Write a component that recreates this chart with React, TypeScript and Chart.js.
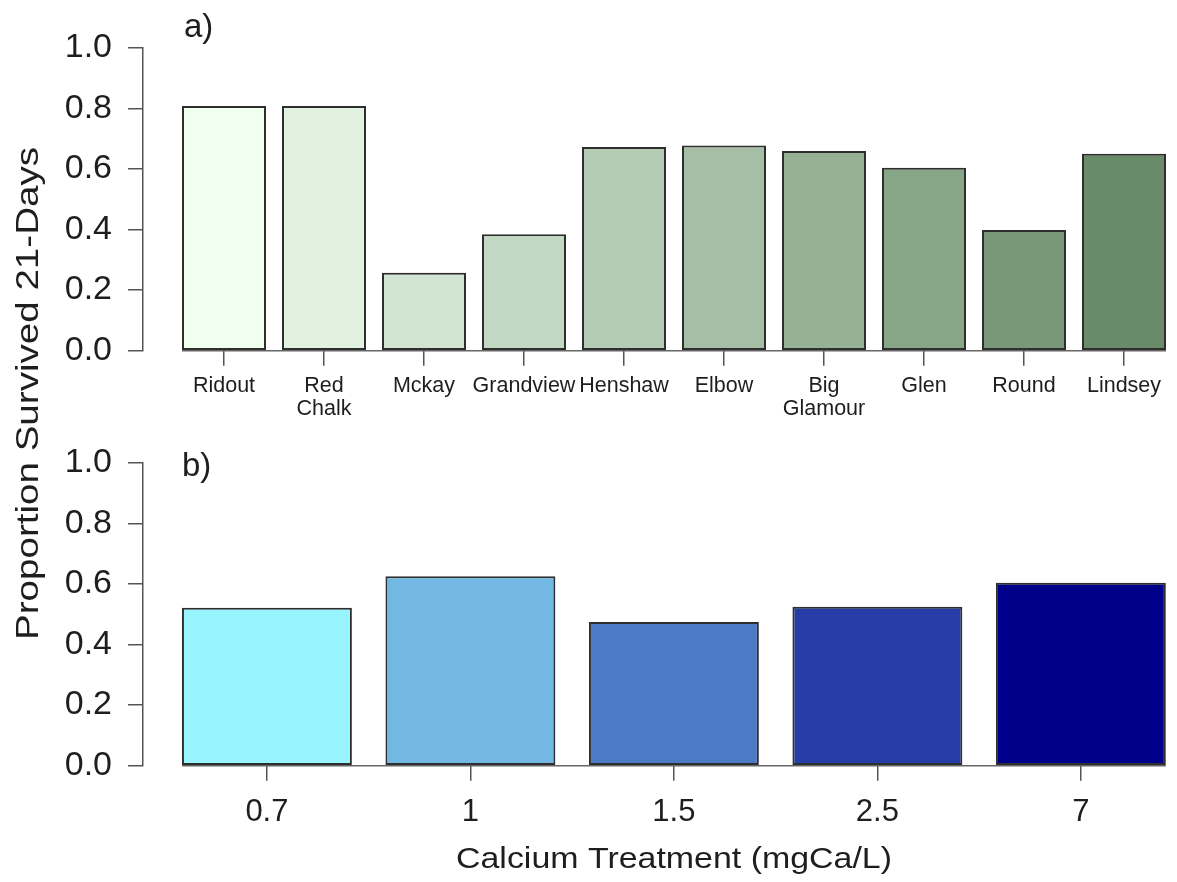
import { useEffect, useRef } from 'react';
import { Chart, registerables } from 'chart.js';

Chart.register(...registerables);

// ---------- data ----------
const lakeNames = ['Ridout', 'Red\nChalk', 'Mckay', 'Grandview', 'Henshaw', 'Elbow', 'Big\nGlamour', 'Glen', 'Round', 'Lindsey'];
const lakeSurvival = [0.808, 0.808, 0.257, 0.384, 0.672, 0.677, 0.659, 0.604, 0.398, 0.650];

const calciumLevels = ['0.7', '1', '1.5', '2.5', '7'];
const calciumSurvival = [0.521, 0.625, 0.474, 0.525, 0.604];

const yTickValues = [0, 0.2, 0.4, 0.6, 0.8, 1.0];

const yAxisTitle = 'Proportion Survived 21-Days';
const xAxisTitleB = 'Calcium Treatment (mgCa/L)';
const panelLabelA = 'a)';
const panelLabelB = 'b)';

// ---------- styles ----------
const lakeColors = ['#F0FFF0', '#E1F2E1', '#D2E5D2', '#C3D8C3', '#B4CBB4', '#A5BEA5', '#96B296', '#87A587', '#789878', '#698B69'];
const calciumColors = ['#98F5FF', '#72B8E2', '#4C7AC5', '#263DA8', '#00008B'];

const FONT = '"Liberation Sans", Arial, Helvetica, sans-serif';
const AXIS_GRAY = '#555555';
const TEXT = '#1e1e1e';

type TextItem = {
  text: string;
  x: number;
  y: number;
  size: number;
  align?: CanvasTextAlign;
  rotate?: boolean;
  length?: number;
};

function textPlugin(id: string, items: TextItem[]) {
  return {
    id,
    afterDraw(chart: any) {
      const ctx = chart.ctx as CanvasRenderingContext2D;
      items.forEach((it) => {
        ctx.save();
        ctx.font = `${it.size}px ${FONT}`;
        ctx.fillStyle = TEXT;
        ctx.textAlign = it.align ?? 'left';
        ctx.textBaseline = 'alphabetic';
        ctx.translate(it.x, it.y);
        if (it.rotate) ctx.rotate(-Math.PI / 2);
        if (it.length) {
          const w = ctx.measureText(it.text).width;
          ctx.scale(it.length / w, 1);
        }
        ctx.fillText(it.text, 0, 0);
        ctx.restore();
      });
    },
  };
}

const baselinePlugin = {
  id: 'baseline',
  beforeDatasetsDraw(chart: any) {
    const meta = chart.getDatasetMeta(0);
    const bars = meta.data;
    if (!bars.length) return;
    const first = bars[0];
    const last = bars[bars.length - 1];
    const y0 = chart.scales.y.getPixelForValue(0);
    const ctx = chart.ctx as CanvasRenderingContext2D;
    ctx.save();
    ctx.strokeStyle = '#666666';
    ctx.lineWidth = 1.5;
    ctx.beginPath();
    ctx.moveTo(first.x - first.width / 2, y0);
    ctx.lineTo(last.x + last.width / 2, y0);
    ctx.stroke();
    ctx.restore();
  },
};

type PanelOpts = {
  labels: string[];
  values: number[];
  colors: string[];
  xMin: number;
  xMax: number;
  catPct: number;
  padding: { top: number; bottom: number; left: number; right: number };
  xHeight: number;
  xFontSize: number;
  xLineHeight: number;
  xPadding: number;
  texts: TextItem[];
  pluginId: string;
};

function makeConfig(o: PanelOpts): any {
  const tickGrid = {
    offset: false,
    drawOnChartArea: false,
    drawTicks: true,
    tickLength: 15,
    color: AXIS_GRAY,
    lineWidth: 1.5,
  };
  return {
    type: 'bar',
    data: {
      datasets: [
        {
          data: o.values.map((v, i) => ({ x: i, y: v })),
          backgroundColor: o.colors,
          borderColor: '#2e2e2e',
          borderWidth: 2,
          borderSkipped: false,
          categoryPercentage: o.catPct,
          barPercentage: 1,
        },
      ],
    },
    options: {
      responsive: false,
      animation: false,
      devicePixelRatio: 1,
      events: [],
      layout: { padding: o.padding },
      plugins: {
        legend: { display: false },
        tooltip: { enabled: false },
        title: { display: false },
      },
      scales: {
        x: {
          type: 'linear',
          min: o.xMin,
          max: o.xMax,
          offset: false,
          grid: tickGrid,
          border: { display: false },
          afterBuildTicks: (s: any) => {
            s.ticks = o.labels.map((_, i) => ({ value: i }));
          },
          afterFit: (s: any) => {
            s.height = o.xHeight;
          },
          ticks: {
            autoSkip: false,
            maxRotation: 0,
            minRotation: 0,
            padding: o.xPadding,
            color: TEXT,
            font: { family: FONT, size: o.xFontSize, lineHeight: o.xLineHeight },
            callback: (v: number) => {
              const lab = o.labels[Math.round(v)];
              return lab ? lab.split('\n') : '';
            },
          },
        },
        y: {
          type: 'linear',
          min: 0,
          max: 1,
          grid: tickGrid,
          border: { display: true, color: AXIS_GRAY, width: 1.5 },
          afterBuildTicks: (s: any) => {
            s.ticks = yTickValues.map((v) => ({ value: v }));
          },
          afterFit: (s: any) => {
            s.width = 143;
          },
          ticks: {
            padding: 16,
            color: TEXT,
            font: { family: FONT, size: 34 },
            callback: (v: number) => Number(v).toFixed(1),
          },
        },
      },
    },
    plugins: [baselinePlugin, textPlugin(o.pluginId, o.texts)],
  };
}

export default function App() {
  const refA = useRef<HTMLCanvasElement>(null);
  const refB = useRef<HTMLCanvasElement>(null);

  useEffect(() => {
    const cfgA = makeConfig({
      labels: lakeNames,
      values: lakeSurvival,
      colors: lakeColors,
      xMin: -0.81,
      xMax: 9.46,
      catPct: 0.84,
      padding: { top: 47.7, bottom: 462, left: 0, right: 7 },
      xHeight: 69.3,
      xFontSize: 21.5,
      xLineHeight: 1.08,
      xPadding: 9,
      pluginId: 'textsA',
      texts: [
        { text: panelLabelA, x: 184, y: 37, size: 33 },
        { text: yAxisTitle, x: 37.5, y: 393.5, size: 31, rotate: true, align: 'center', length: 493 },
      ],
    });
    const cfgB = makeConfig({
      labels: calciumLevels,
      values: calciumSurvival,
      colors: calciumColors,
      xMin: -0.609,
      xMax: 4.438,
      catPct: 0.835,
      padding: { top: 42.7, bottom: 0, left: 0, right: 7 },
      xHeight: 116.3,
      xFontSize: 31,
      xLineHeight: 1.2,
      xPadding: 13,
      pluginId: 'textsB',
      texts: [
        { text: panelLabelB, x: 182, y: 56, size: 33 },
        { text: xAxisTitleB, x: 674, y: 448.3, size: 30, align: 'center', length: 436 },
      ],
    });
    const a = new Chart(refA.current as HTMLCanvasElement, cfgA);
    const b = new Chart(refB.current as HTMLCanvasElement, cfgB);
    return () => {
      a.destroy();
      b.destroy();
    };
  }, []);

  return (
    <div style={{ position: 'absolute', left: 0, top: 0, width: 1177, height: 882, background: '#ffffff' }}>
      <canvas ref={refA} width={1177} height={882} style={{ position: 'absolute', left: 0, top: 0 }} />
      <canvas ref={refB} width={1177} height={462} style={{ position: 'absolute', left: 0, top: 420 }} />
    </div>
  );
}
